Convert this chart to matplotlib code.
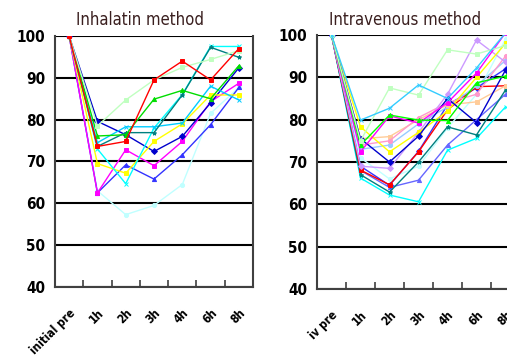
import matplotlib
matplotlib.use("Agg")
import matplotlib.pyplot as plt
from matplotlib.ticker import FixedLocator

# --- data -------------------------------------------------------------
inh_labels = ["initial pre", "1h", "2h", "3h", "4h", "6h", "8h"]
iv_labels = ["iv pre", "1h", "2h", "3h", "4h", "6h", "8h"]
y_ticks = [40, 50, 60, 70, 80, 90, 100]

# inhalation group (one list per animal)
inh_red = [100, 73.6, 74.8, 89.5, 94.0, 89.5, 97.0]
inh_palegreen = [100, 78.5, 84.7, 89.5, 92.5, 94.4, 96.5]
inh_green = [100, 76.1, 76.4, 84.9, 87.0, 85.0, 92.9]
inh_teal = [100, 73.6, 76.9, 76.9, 85.9, 97.3, 94.9]
inh_skyblue = [100, 74.5, 78.3, 78.3, 79.2, 88.0, 84.7]
inh_cyan = [100, 73.0, 64.7, 78.0, 86.0, 97.5, 97.5]
inh_yellow = [100, 69.5, 67.2, 74.8, 79.0, 85.9, 85.9]
inh_blue = [100, 79.6, 76.4, 72.4, 76.0, 84.0, 92.4]
inh_magenta = [100, 62.5, 72.8, 69.0, 74.8, 84.3, 88.7]
inh_blue2 = [100, 62.5, 69.2, 65.8, 71.6, 78.8, 87.7]
inh_palecyan = [100, 63.0, 57.3, 59.5, 64.5, 81.5, 87.7]

# intravenous group
iv_skyblue = [100, 79.9, 82.7, 88.2, 85.0, 92.2, 100.5]
iv_palegreen = [100, 75.0, 87.5, 85.8, 96.5, 95.5, 97.5]
iv_green = [100, 74.0, 81.1, 79.9, 79.8, 88.7, 90.3]
iv_magenta = [100, 72.4, 80.9, 79.2, 84.0, 91.0, 100.5]
iv_lavender = [100, 69.0, 68.5, 77.0, 86.0, 98.8, 93.6]
iv_blue = [100, 75.5, 70.0, 76.1, 85.0, 79.3, 91.7]
iv_yellow = [100, 78.3, 72.4, 77.0, 82.0, 90.0, 98.0]
iv_peach = [100, 75.5, 76.0, 80.0, 83.5, 84.2, 88.0]
iv_pink = [100, 74.0, 75.0, 80.5, 84.0, 86.0, 95.0]
iv_red = [100, 68.1, 64.6, 72.4, 82.3, 87.8, 88.0]
iv_teal = [100, 67.0, 62.9, 70.0, 78.3, 76.4, 87.0]
iv_cyan = [100, 66.2, 62.2, 60.6, 72.8, 75.6, 83.0]
iv_cornflower = [100, 68.0, 64.0, 65.7, 74.0, 80.0, 86.0]
iv_lightblue = [100, 73.0, 74.0, 79.0, 83.0, 88.0, 94.0]
iv_blue2 = [100, 69.0, 64.5, 72.5, 83.5, 87.5, 92.0]
iv_lightcyan = [100, 71.0, 66.0, 69.0, 78.0, 86.0, 99.0]

inh_series = [
    (inh_palecyan, "#c0ffff", "o"), (inh_blue2, "#3333ff", "^"),
    (inh_magenta, "#ff00ff", "s"), (inh_blue, "#0000cc", "D"),
    (inh_yellow, "#ffff00", "s"), (inh_cyan, "#00ffff", "x"),
    (inh_skyblue, "#00ccff", "x"), (inh_teal, "#008080", "*"),
    (inh_green, "#00dd00", "^"), (inh_palegreen, "#c0ffc0", "s"),
    (inh_red, "#ff0000", "s"),
]
iv_series = [
    (iv_lightcyan, "#c0ffff", "o"), (iv_cyan, "#00ffff", "x"),
    (iv_cornflower, "#6666ff", "^"), (iv_teal, "#008080", "*"),
    (iv_blue2, "#3333ff", "D"), (iv_red, "#ff0000", "s"),
    (iv_lightblue, "#99ccff", "o"), (iv_peach, "#ffcc99", "s"),
    (iv_pink, "#ff99cc", "o"), (iv_lavender, "#cc99ff", "D"),
    (iv_yellow, "#ffff00", "s"), (iv_blue, "#0000cc", "D"),
    (iv_magenta, "#ff00ff", "s"), (iv_green, "#00ff00", "^"),
    (iv_palegreen, "#c0ffc0", "s"), (iv_skyblue, "#33ccff", "x"),
]

W, H = 507, 361
fig = plt.figure(figsize=(W / 100, H / 100), dpi=100)
fig.patch.set_facecolor("white")

num_font = "DejaVu Sans"


def draw_panel(rect, series, labels, title, title_x):
    ax = fig.add_axes(rect)
    x = list(range(len(labels)))
    for vals, col, mk in series:
        ax.plot(x, vals, color=col, lw=1.0, marker=mk, ms=3,
                markeredgewidth=0.7, zorder=3)
    ax.set_xlim(-0.5, len(labels) - 0.5)
    ax.set_ylim(40, 100)
    ax.set_yticks(y_ticks)
    ax.yaxis.grid(True, color="black", lw=1.5, zorder=1)
    ax.set_axisbelow(True)
    ax.tick_params(axis="y", length=0, pad=7)
    for t in ax.get_yticklabels():
        t.set_fontfamily(num_font)
        t.set_fontstretch("condensed")
        t.set_fontweight("bold")
        t.set_fontsize(11)
    # category ticks sit between categories, pointing up
    ax.xaxis.set_major_locator(FixedLocator([i + 0.5 for i in range(len(labels) - 1)]))
    ax.xaxis.set_minor_locator(FixedLocator(x))
    ax.set_xticklabels([])
    ax.set_xticklabels(labels, minor=True, rotation=45, ha="right",
                       rotation_mode="anchor", fontsize=8.5,
                       fontweight="bold", fontfamily="DejaVu Sans",
                       fontstretch="condensed")
    ax.tick_params(axis="x", which="major", direction="in", length=5,
                   width=1.2, color="#404040")
    ax.tick_params(axis="x", which="minor", length=0, pad=14)
    for s in ["left", "bottom", "right"]:
        ax.spines[s].set_color("#404040")
        ax.spines[s].set_linewidth(1.5)
    ax.spines["top"].set_visible(False)
    fig.text(title_x, 1 - 20 / H, title, ha="center", va="center",
             fontsize=12, color="#3a1f1f", fontfamily=num_font,
             fontstretch="condensed")
    return ax


draw_panel([55 / W, (H - 287) / H, (253 - 55) / W, (287 - 36) / H],
           inh_series, inh_labels, "Inhalatin method", 140 / W)
draw_panel([317 / W, (H - 289) / H, (520 - 317) / W, (289 - 35) / H],
           iv_series, iv_labels, "Intravenous method", 405 / W)

fig.savefig("out.png", dpi=100)
